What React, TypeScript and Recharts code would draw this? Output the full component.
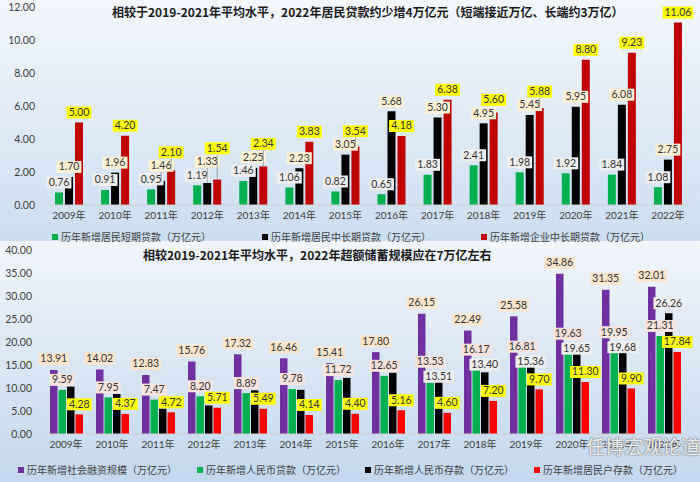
import { BarChart, Bar, XAxis, YAxis, LabelList } from 'recharts';

const years = ['2009年', '2010年', '2011年', '2012年', '2013年', '2014年', '2015年',
    '2016年', '2017年', '2018年', '2019年', '2020年', '2021年', '2022年'];

// 上图：居民短期 / 居民中长期 / 企业中长期（万亿元）
const shortLoans = [0.76, 0.91, 0.95, 1.19, 1.46, 1.06, 0.82, 0.65, 1.83, 2.41, 1.98, 1.92, 1.84, 1.08];
const midLongLoans = [1.70, 1.96, 1.46, 1.33, 2.25, 2.23, 3.05, 5.68, 5.30, 4.95, 5.45, 5.95, 6.08, 2.75];
const corpLoans = [5.00, 4.20, 2.10, 1.54, 2.34, 3.83, 3.54, 4.18, 6.38, 5.60, 5.88, 8.80, 9.23, 11.06];
const topTicks = [0, 2, 4, 6, 8, 10, 12];

// 下图：社融 / 人民币贷款 / 人民币存款 / 居民户存款（万亿元）
const tsf = [13.91, 14.02, 12.83, 15.76, 17.32, 16.46, 15.41, 17.80, 26.15, 22.49, 25.58, 34.86, 31.35, 32.01];
const rmbLoans = [9.59, 7.95, 7.47, 8.20, 8.89, 9.78, 11.72, 12.65, 13.53, 16.17, 16.81, 19.63, 19.95, 21.31];
const rmbDeposits = [10.3, 8.7, 5.5, 6.2, 9.5, 9.6, 12.2, 13.3, 13.51, 13.40, 15.36, 19.65, 19.68, 26.26];
const depositLabeled = [false, false, false, false, false, false, false, false, true, true, true, true, true, true];
const householdDeposits = [4.28, 4.37, 4.72, 5.71, 5.49, 4.14, 4.40, 5.16, 4.60, 7.20, 9.70, 11.30, 9.90, 17.84];
const bottomTicks = [0, 5, 10, 15, 20, 25, 30, 35, 40];

const topData = years.map((year, i) => ({
    year, short: shortLoans[i], midLong: midLongLoans[i], corp: corpLoans[i],
}));
const bottomData = years.map((year, i) => ({
    year, tsf: tsf[i], loans: rmbLoans[i], deposits: rmbDeposits[i], household: householdDeposits[i],
}));

const NUM_FONT = "Lato, 'Noto Sans CJK SC', sans-serif";
const CJK_FONT = "'Noto Sans CJK SC', sans-serif";
const BOX_H = 12;

const boxWidth = (s: string) => s.replace('.', '').length * 5.7 + 2.8 + 5;

function LabelBox({ cx, bottom, barTop, text, fill }: any) {
    const w = boxWidth(text);
    return (
        <g>
            {barTop - bottom > 7 && (
                <line x1={cx} x2={cx} y1={bottom} y2={barTop} stroke="#8c8c8c" strokeWidth={0.8} />
            )}
            <rect x={cx - w / 2} y={bottom - BOX_H} width={w} height={BOX_H} fill={fill} />
            <text x={cx} y={bottom - 2.6} textAnchor="middle" fontSize={10.5} fill="#333" fontFamily={NUM_FONT}>
                {text}
            </text>
        </g>
    );
}

const topSeries = [shortLoans, midLongLoans, corpLoans];
const topFills = ['#eeeeee', '#fdf1d3', '#ffff00'];

// push a label up while it collides with the labels of earlier series in the same year
const makeTopLabel = (s: number) => (p: any) => {
    const x = Number(p.x), y = Number(p.y), width = Number(p.width), height = Number(p.height);
    const idx = p.index ?? topSeries[s].indexOf(Number(p.value));
    const base = y + height;
    const unit = height / topSeries[s][idx];
    const bottoms: number[] = [];
    for (let k = 0; k <= s; k++) {
        let b = base - topSeries[k][idx] * unit - 4;
        for (const prev of bottoms) {
            if (b > prev - BOX_H - 1.5 && b - BOX_H < prev + 1.5) b = prev - BOX_H - 1.5;
        }
        bottoms.push(b);
    }
    return (
        <LabelBox cx={x + width / 2} bottom={bottoms[s]} barTop={y}
            text={topSeries[s][idx].toFixed(2)} fill={topFills[s]} />
    );
};

const bottomSeries = [tsf, rmbLoans, rmbDeposits, householdDeposits];
const bottomFills = ['#fbe6cc', '#f8e4dc', '#eeeeee', '#ffff00'];

const makeBottomLabel = (s: number) => (p: any) => {
    const x = Number(p.x), y = Number(p.y), width = Number(p.width), height = Number(p.height);
    const idx = p.index ?? bottomSeries[s].indexOf(Number(p.value));
    if (s === 2 && !depositLabeled[idx]) return null;
    const base = y + height;
    const unit = height / bottomSeries[s][idx];
    let bottom = y - 4;
    if (s === 0) bottom = y - 5;
    if (s === 2) {
        const greenBottom = base - rmbLoans[idx] * unit - 4;
        if (bottom > greenBottom - BOX_H - 1 && bottom - BOX_H < greenBottom + 1) {
            bottom = greenBottom + BOX_H + 3;
        }
    }
    return (
        <LabelBox cx={x + width / 2} bottom={bottom} barTop={s === 2 ? bottom : y}
            text={bottomSeries[s][idx].toFixed(2)} fill={bottomFills[s]} />
    );
};

const tickStyle = { fontSize: 10.5, fill: '#404040', fontFamily: NUM_FONT };

function LegendRow({ items, top }: { items: { name: string; color: string; left: number }[]; top: number }) {
    return (
        <>
            {items.map((it) => (
                <div key={it.name} style={{
                    position: 'absolute', left: it.left, top, display: 'flex', alignItems: 'center',
                    fontFamily: CJK_FONT, fontSize: 10, color: '#404040', whiteSpace: 'nowrap', lineHeight: '14px',
                }}>
                    <span style={{ display: 'inline-block', width: 6, height: 6, background: it.color, marginRight: 3 }} />
                    {it.name}
                </div>
            ))}
        </>
    );
}

export default function App() {
    return (
        <div style={{ position: 'absolute', left: 0, top: 0, width: 700, height: 482, overflow: 'hidden' }}>
            <div style={{
                position: 'absolute', left: 0, top: 0, width: 700, height: 241,
                background: 'linear-gradient(180deg, #f3f7fc 0%, #e2ecf7 45%, #cbdef1 100%)',
            }} />
            <div style={{
                position: 'absolute', left: 0, top: 241, width: 700, height: 241,
                background: 'linear-gradient(180deg, #f2f6fb 0%, #dce8f5 45%, #c3d8ef 100%)',
            }} />

            <div style={{ position: 'absolute', left: 0, top: 0 }}>
                <BarChart width={700} height={240} data={topData}
                    margin={{ top: 7, right: 9, left: 0, bottom: 15 }} barSize={8} barGap={2}>
                    <XAxis dataKey="year" interval={0} tickLine={false} tickSize={0} tickMargin={7}
                        axisLine={{ stroke: '#d0d0d0' }} tick={{ ...tickStyle, fontSize: 10 }} height={20} />
                    <YAxis domain={[0, 12]} ticks={topTicks} width={46} axisLine={false} tickLine={false}
                        tickSize={0} tickMargin={11} tick={tickStyle} tickFormatter={(v: number) => v.toFixed(2)} />
                    <Bar dataKey="short" fill="#00b050" isAnimationActive={false}>
                        <LabelList dataKey="short" content={makeTopLabel(0)} />
                    </Bar>
                    <Bar dataKey="midLong" fill="#000000" isAnimationActive={false}>
                        <LabelList dataKey="midLong" content={makeTopLabel(1)} />
                    </Bar>
                    <Bar dataKey="corp" fill="#c00000" isAnimationActive={false}>
                        <LabelList dataKey="corp" content={makeTopLabel(2)} />
                    </Bar>
                </BarChart>
            </div>

            <div style={{ position: 'absolute', left: 0, top: 240 }}>
                <BarChart width={700} height={242} data={bottomData}
                    margin={{ top: 10, right: 13, left: 0, bottom: 28 }} barSize={7.5} barGap={1}>
                    <XAxis dataKey="year" interval={0} tickLine={false} tickSize={0} tickMargin={7}
                        axisLine={{ stroke: '#d0d0d0' }} tick={{ ...tickStyle, fontSize: 10 }} height={20} />
                    <YAxis domain={[0, 40]} ticks={bottomTicks} width={43} axisLine={false} tickLine={false}
                        tickSize={0} tickMargin={11} tick={tickStyle} tickFormatter={(v: number) => v.toFixed(2)} />
                    <Bar dataKey="tsf" fill="#7030a0" isAnimationActive={false}>
                        <LabelList dataKey="tsf" content={makeBottomLabel(0)} />
                    </Bar>
                    <Bar dataKey="loans" fill="#00b050" isAnimationActive={false}>
                        <LabelList dataKey="loans" content={makeBottomLabel(1)} />
                    </Bar>
                    <Bar dataKey="deposits" fill="#000000" isAnimationActive={false}>
                        <LabelList dataKey="deposits" content={makeBottomLabel(2)} />
                    </Bar>
                    <Bar dataKey="household" fill="#ff0000" isAnimationActive={false}>
                        <LabelList dataKey="household" content={makeBottomLabel(3)} />
                    </Bar>
                </BarChart>
            </div>

            <div style={{
                position: 'absolute', left: 112, top: 3, fontFamily: CJK_FONT, fontWeight: 700,
                fontSize: 12, color: '#1a1a1a', whiteSpace: 'nowrap', lineHeight: '18px',
            }}>
                相较于2019-2021年平均水平，2022年居民贷款约少增4万亿元（短端接近万亿、长端约3万亿）
            </div>
            <div style={{
                position: 'absolute', left: 143, top: 246, fontFamily: CJK_FONT, fontWeight: 700,
                fontSize: 12, color: '#1a1a1a', whiteSpace: 'nowrap', lineHeight: '18px',
            }}>
                相较2019-2021年平均水平，2022年超额储蓄规模应在7万亿左右
            </div>

            <LegendRow top={230} items={[
                { name: '历年新增居民短期贷款（万亿元）', color: '#00b050', left: 52 },
                { name: '历年新增居民中长期贷款（万亿元）', color: '#000000', left: 262 },
                { name: '历年新增企业中长期贷款（万亿元）', color: '#c00000', left: 481 },
            ]} />
            <LegendRow top={463} items={[
                { name: '历年新增社会融资规模（万亿元）', color: '#7030a0', left: 18 },
                { name: '历年新增人民币贷款（万亿元）', color: '#00b050', left: 197 },
                { name: '历年新增人民币存款（万亿元）', color: '#000000', left: 365 },
                { name: '历年新增居民户存款（万亿元）', color: '#ff0000', left: 534 },
            ]} />

            <div style={{
                position: 'absolute', left: 586, top: 434, fontFamily: CJK_FONT, fontSize: 19,
                color: 'rgba(255,255,255,0.9)', whiteSpace: 'nowrap', lineHeight: '24px',
                textShadow: '0 0 2px #7f7f7f, 0 0 1px #555',
            }}>
                任博宏观论道
            </div>
        </div>
    );
}
